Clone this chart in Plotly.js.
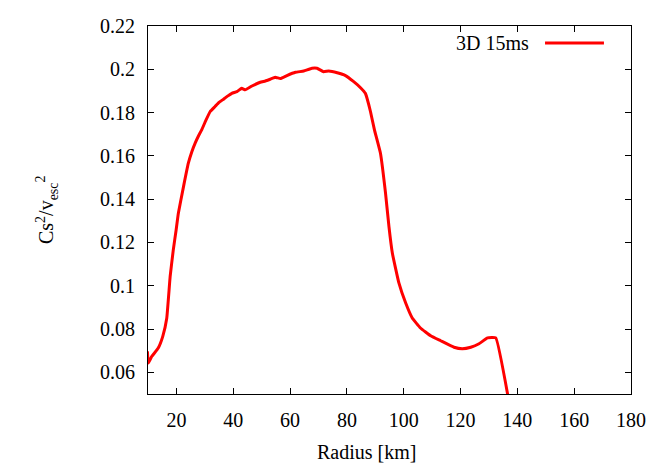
<!DOCTYPE html>
<html>
<head>
<meta charset="utf-8">
<script src="https://cdn.plot.ly/plotly-3.0.1.min.js"></script>
<style>html,body{margin:0;padding:0;background:#fff;}#chart{width:664px;height:465px;}</style>
</head>
<body>
<div id="chart"></div>
<script>
// Data
const radius = [9.8, 10.1, 11.3, 13.6, 15.2, 16.6, 17.8, 18.9, 19.9, 20.7, 22.5, 24.2, 25.4, 26.6, 27.8, 28.9, 30.4, 31.9, 33.6, 35.0, 36.6, 38.0, 39.5, 41.3, 43.0, 44.2, 46.6, 49.5, 51.3, 53.0, 54.8, 56.6, 58.9, 61.9, 64.8, 67.7, 69.5, 71.8, 73.6, 76.6, 79.5, 82.4, 84.8, 86.5, 88.3, 89.7, 91.8, 93.6, 94.8, 96.0, 98.3, 100.7, 103.0, 105.9, 109.5, 113.0, 117.7, 120.6, 123.6, 126.5, 129.5, 132.4, 138.0];
const cs2vesc2 = [0.0697, 0.0643, 0.0673, 0.0712, 0.0766, 0.0850, 0.1043, 0.1166, 0.1258, 0.1336, 0.1458, 0.1566, 0.1618, 0.1659, 0.1693, 0.1720, 0.1765, 0.1805, 0.1828, 0.1847, 0.1862, 0.1876, 0.1889, 0.1897, 0.1912, 0.1905, 0.1923, 0.1940, 0.1946, 0.1954, 0.1963, 0.1957, 0.1971, 0.1986, 0.1992, 0.2005, 0.2005, 0.1989, 0.1992, 0.1984, 0.1971, 0.1943, 0.1915, 0.1889, 0.1805, 0.1720, 0.1613, 0.1428, 0.1274, 0.1151, 0.1013, 0.0920, 0.0851, 0.0805, 0.0769, 0.0746, 0.0716, 0.0709, 0.0716, 0.0732, 0.0759, 0.0759, 0.0394];
const seriesName = "3D 15ms";
const xTickVals = [20, 40, 60, 80, 100, 120, 140, 160, 180];
const xTickText = ["20", "40", "60", "80", "100", "120", "140", "160", "180"];
const yTickVals = [0.06, 0.08, 0.10, 0.12, 0.14, 0.16, 0.18, 0.20, 0.22];
const yTickText = ["0.06", "0.08", "0.1", "0.12", "0.14", "0.16", "0.18", "0.2", "0.22"];

const font = {family: "Liberation Serif", size: 20, color: "#000"};

const trace = {
  x: radius, y: cs2vesc2, type: "scatter", mode: "lines", name: seriesName,
  line: {color: "#ff0000", width: 3, shape: "spline", smoothing: 0.3}, showlegend: false
};

const axisCommon = {
  showgrid: false, zeroline: false, showline: true, linecolor: "#000", linewidth: 1,
  mirror: "ticks", ticks: "inside", ticklen: 6, tickwidth: 1, tickcolor: "#000",
  tickfont: font, tickmode: "array"
};

const layout = {
  width: 664, height: 465,
  margin: {l: 148, r: 33, t: 26, b: 71, pad: 0},
  paper_bgcolor: "#fff", plot_bgcolor: "#fff",
  font: font,
  xaxis: Object.assign({}, axisCommon, {range: [10, 180], tickvals: xTickVals, ticktext: xTickText, ticklabelstandoff: 8}),
  yaxis: Object.assign({}, axisCommon, {range: [0.05, 0.22], tickvals: yTickVals, ticktext: yTickText, ticklabelstandoff: 8}),
  annotations: [
    {text: "Radius [km]", xref: "paper", yref: "paper", x: 0.453, y: -0.157, xanchor: "center", yanchor: "middle", showarrow: false, font: font},
    {text: "Cs<sup>2</sup>/v<sub>esc</sub><sup>2</sup>", xref: "paper", yref: "paper", x: -0.209, y: 0.5, xanchor: "center", yanchor: "middle", textangle: -90, showarrow: false, font: font},
    {text: seriesName, xref: "paper", yref: "paper", x: 0.792, y: 0.954, xanchor: "right", yanchor: "middle", showarrow: false, font: font}
  ],
  shapes: [
    {type: "line", xref: "paper", yref: "paper", x0: 0.822, x1: 0.944, y0: 0.954, y1: 0.954, line: {color: "#ff0000", width: 3}}
  ]
};

Plotly.newPlot("chart", [trace], layout, {displayModeBar: false, staticPlot: true});
</script>
</body>
</html>
